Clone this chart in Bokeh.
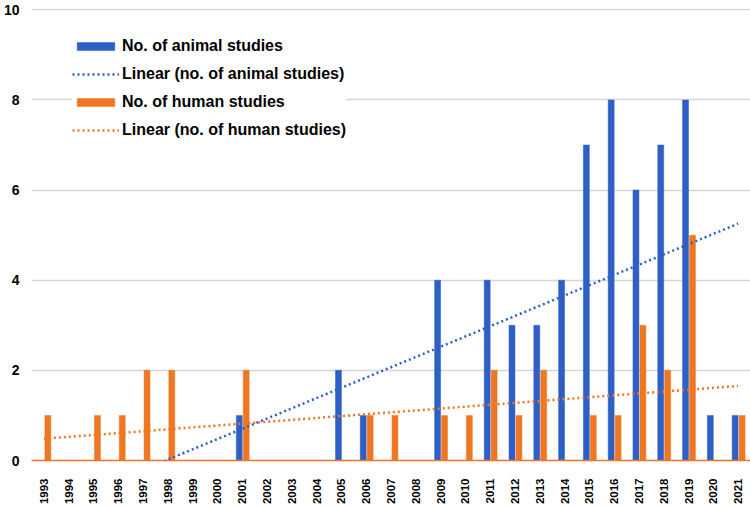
import numpy as np
from bokeh.plotting import figure
from bokeh.models import Range1d, FixedTicker, Legend, LegendItem, ColumnDataSource
from bokeh.embed import file_html
from bokeh.resources import INLINE

years = [1993, 1994, 1995, 1996, 1997, 1998, 1999, 2000, 2001, 2002, 2003, 2004, 2005, 2006, 2007,
         2008, 2009, 2010, 2011, 2012, 2013, 2014, 2015, 2016, 2017, 2018, 2019, 2020, 2021]
animal = [0, 0, 0, 0, 0, 0, 0, 0, 1, 0, 0, 0, 2, 1, 0, 0, 4, 0, 4, 3, 3, 4, 7, 8, 6, 7, 8, 1, 1]
human = [1, 0, 1, 1, 2, 2, 0, 0, 2, 0, 0, 0, 0, 1, 1, 0, 1, 1, 2, 1, 2, 0, 1, 1, 3, 2, 5, 0, 1]
y_ticks = [0, 2, 4, 6, 8, 10]

BLUE = "#2D5FC6"
ORANGE = "#EF7622"
FONT = "Liberation Sans"

yrs = np.array(years, dtype=float)
idx = np.arange(1, len(years) + 1)
a_fit = np.polyfit(idx, animal, 1)
h_fit = np.polyfit(idx, human, 1)
a_trend = np.polyval(a_fit, idx)
h_trend = np.polyval(h_fit, idx)

src = ColumnDataSource(dict(xa=yrs - 0.12, xh=yrs + 0.16, x=yrs, animal=animal, human=human,
                            at=a_trend, ht=h_trend))

p = figure(width=750, height=507, output_backend="svg", toolbar_location=None,
           x_range=Range1d(1992.5, 2021.5), y_range=Range1d(0, 10.03),
           min_border_left=30, min_border_right=0, min_border_top=8, min_border_bottom=47)
p.outline_line_color = None
p.background_fill_color = "white"
p.border_fill_color = "white"

r_a = p.vbar(x="xa", top="animal", width=0.24, bottom=0, source=src, fill_color=BLUE,
             line_color=BLUE, line_width=0.5)
r_h = p.vbar(x="xh", top="human", width=0.24, bottom=0, source=src, fill_color=ORANGE,
             line_color=ORANGE, line_width=0.5)
r_at = p.line(x="x", y="at", source=src, line_color=BLUE, line_width=2.5,
              line_dash="2 3")
r_ht = p.line(x="x", y="ht", source=src, line_color=ORANGE, line_width=2.5,
              line_dash="2 3")

legend = Legend(items=[
    LegendItem(label="No. of animal studies", renderers=[r_a]),
    LegendItem(label="Linear (no. of animal studies)", renderers=[r_at]),
    LegendItem(label="No. of human studies", renderers=[r_h]),
    LegendItem(label="Linear (no. of human studies)", renderers=[r_ht]),
], location=(41, 320))
legend.border_line_color = None
legend.background_fill_color = "white"
legend.background_fill_alpha = 1
legend.padding = 8
legend.margin = 0
legend.spacing = 8
legend.glyph_width = 47
legend.glyph_height = 10
legend.label_height = 20
legend.label_standoff = 3
legend.label_text_font = FONT
legend.label_text_font_style = "bold"
legend.label_text_font_size = "16px"
legend.label_text_color = "black"
p.add_layout(legend, "center")

# axes
p.xaxis.ticker = FixedTicker(ticks=years)
p.xaxis.major_label_overrides = {y: str(y) for y in years}
p.xaxis.major_label_orientation = np.pi / 2
p.xaxis.major_label_text_font = FONT
p.xaxis.major_label_text_font_style = "bold"
p.xaxis.major_label_text_font_size = "11.5px"
p.xaxis.major_label_text_color = "black"
p.xaxis.major_label_standoff = 18
p.xaxis.major_tick_out = 0
p.xaxis.major_tick_in = 0
p.xaxis.major_tick_line_color = None
p.xaxis.minor_tick_line_color = None
p.xaxis.axis_line_color = ORANGE
p.xaxis.axis_line_width = 1.5

p.yaxis.ticker = FixedTicker(ticks=y_ticks)
p.yaxis.major_label_text_font = FONT
p.yaxis.major_label_text_font_style = "bold"
p.yaxis.major_label_text_font_size = "14px"
p.yaxis.major_label_text_color = "black"
p.yaxis.major_label_standoff = 12
p.yaxis.major_tick_out = 0
p.yaxis.major_tick_in = 0
p.yaxis.major_tick_line_color = None
p.yaxis.minor_tick_line_color = None
p.yaxis.axis_line_color = None

p.xgrid.grid_line_color = None
p.ygrid.grid_line_color = "#d6d6d6"
p.ygrid.grid_line_width = 1.5

open("out.html", "w").write(file_html(p, INLINE))
